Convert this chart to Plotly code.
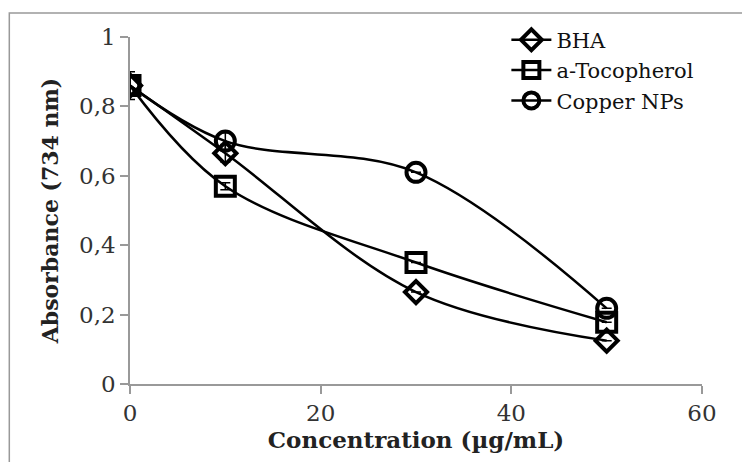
import plotly.graph_objects as go

conc = [0, 10, 30, 50]
bha = [0.86, 0.665, 0.265, 0.125]
toco = [0.86, 0.57, 0.35, 0.178]
copper = [0.86, 0.70, 0.61, 0.218]
bha_err = [0.04, 0.025, 0, 0]
toco_err = [0.03, 0.01, 0, 0]
copper_err = [0.03, 0.025, 0, 0]

names = ["BHA", "a-Tocopherol", "Copper NPs"]
series = [bha, toco, copper]
errs = [bha_err, toco_err, copper_err]
symbols = ["diamond-open", "square-open", "circle-open"]
sizes = [17, 19, 19]

fig = go.Figure()
for n, s, e, sym, sz in zip(names, series, errs, symbols, sizes):
    fig.add_trace(go.Scatter(
        x=conc, y=s, name=n, mode="lines+markers",
        line=dict(color="black", width=2.5, shape="spline", smoothing=1),
        marker=dict(symbol=sym, size=sz, color="black", line=dict(color="black", width=4)),
        error_y=dict(type="data", array=e, visible=True, color="black", thickness=1.5, width=5),
    ))

SERIF = "DejaVu Serif"
fig.update_layout(
    width=750, height=462,
    margin=dict(l=122, r=56, t=29, b=86),
    paper_bgcolor="white", plot_bgcolor="white",
    separators=",.",
    font=dict(family=SERIF, color="#222", size=20),
    showlegend=True,
    legend=dict(x=0.658, y=1.05, xanchor="left", yanchor="top", bgcolor="rgba(0,0,0,0)",
                font=dict(family=SERIF, size=21, color="#111"),
                itemwidth=40, tracegroupgap=0),
    xaxis=dict(range=[0, 60], tickvals=[0, 20, 40, 60], showgrid=False, zeroline=False,
               showline=True, linecolor="#999", linewidth=1.5,
               ticks="outside", ticklen=8, tickcolor="#999", tickwidth=1.5,
               tickfont=dict(family=SERIF, size=23, color="#333"),
               title=dict(text="<b>Concentration (µg/mL)</b>", font=dict(family=SERIF, size=23, color="#222"), standoff=6)),
    yaxis=dict(range=[0, 1], tickvals=[0, 0.2, 0.4, 0.6, 0.8, 1], showgrid=False, zeroline=False,
               showline=True, linecolor="#999", linewidth=1.5,
               ticks="outside", ticklen=8, tickcolor="#999", tickwidth=1.5,
               tickfont=dict(family=SERIF, size=23, color="#333"),
               title=dict(text="<b>Absorbance (734 nm)</b>", font=dict(family=SERIF, size=22, color="#222"), standoff=14)),
    shapes=[dict(type="rect", xref="paper", yref="paper", x0=-0.211, x1=1.3, y0=-0.4, y1=1.069,
                 line=dict(color="#999", width=1.5), fillcolor="rgba(0,0,0,0)", layer="below")],
)

fig.write_html("out.html")
